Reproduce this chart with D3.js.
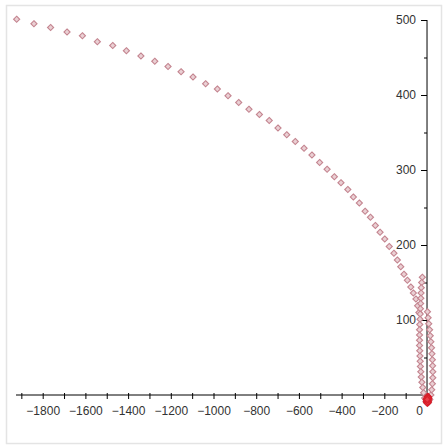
<!DOCTYPE html>
<html><head><meta charset="utf-8">
<script src="https://cdn.jsdelivr.net/npm/d3@7"></script>
<style>
html,body{margin:0;padding:0;background:#fff;}
svg{display:block;}
</style></head>
<body>
<svg id="c" width="447" height="447"></svg>
<script>
// Outer arc
const arcX = [-1922,-1841,-1763,-1686,-1614,-1544,-1472,-1408,-1340,-1275,-1213,-1152,-1096,-1037,-982,-932,-882,-834,-785,-739,-698,-657,-617,-576,-539,-503,-468,-434,-403,-371,-345,-317,-290,-265,-242,-220,-198,-177,-155,-139,-123,-108,-92,-76,-64,-52,-44,-38];
const arcY = [501,495,490,484,479,471,466,459,452,445,438,431,424,415,408,399,390,381,374,366,356,347,338,329,320,310,301,291,283,274,264,256,245,237,226,217,208,198,189,180,171,161,153,144,136,128,119,110];
// Inner loop near the origin
const loopX = [-22,-25,-27,-28,-29,-30,-31,-32,-33,-34,-35,-35,-35,-35,-34,-33,-32,-31,-29,-27,-24,-20,-16,-11,-5,1,7,13,18,22,25,27,27,26,25,23,21,18,15,12,8,5,2];
const loopY = [157,150,143,136,129,122,115,108,101,94,87,80,73,66,59,52,45,38,31,24,17,10,3,-4,-9,-11,-10,-6,0,7,15,23,31,39,47,55,63,71,79,87,95,103,111];
// Dense cluster at the origin
const coreX = [-4,-1,2,5,7,8,7,5,2,0,-2,-3,-1,2,4,5,3,1];
const coreY = [-6,-9,-10,-10,-8,-5,-3,-2,-2,-3,-5,-8,-10,-11,-9,-6,-4,-6];

const xTicks = d3.range(-1900, 1, 100);
const xLabels = [-1800,-1600,-1400,-1200,-1000,-800,-600,-400,-200,0];
const yTicks = d3.range(50, 501, 50);
const yLabels = [100,200,300,400,500];

const svg = d3.select("#c");
svg.append("rect").attr("x",6.5).attr("y",5.5).attr("width",435).attr("height",438)
  .attr("fill","#fff").attr("stroke","#e4e4e4").attr("stroke-width",1.5);

const x = d3.scaleLinear().domain([-1925, 28]).range([16, 433]);
const y = d3.scaleLinear().domain([-12, 500]).range([404, 20]);

const fmt = v => (v < 0 ? "\u2212" + Math.abs(v) : String(v));

// X axis
const gx = svg.append("g").attr("transform", `translate(0,${y(0)})`)
  .call(d3.axisBottom(x).tickValues(xTicks).tickSize(4).tickSizeOuter(0)
     .tickFormat(v => xLabels.includes(v) ? fmt(v) : ""));
gx.select(".domain").attr("stroke","#000").attr("d", `M${x(-1925)},0H${x(28)}`);
gx.selectAll(".tick line").attr("stroke","#000").attr("y1",-2);
gx.selectAll(".tick text").attr("font-family","'Liberation Sans', Arial, sans-serif")
  .attr("font-size",12).attr("fill","#333").attr("y",11)
  .attr("dx", d => d === 0 ? -8 : 0);

// Y axis
const gy = svg.append("g").attr("transform", `translate(${x(0)},0)`)
  .call(d3.axisLeft(y).tickValues(yTicks).tickSize(6).tickSizeOuter(0)
     .tickFormat(v => yLabels.includes(v) ? fmt(v) : ""));
gy.select(".domain").attr("stroke","#000").attr("d", `M0,${y(500)}V${y(-12)}`);
gy.selectAll(".tick line").attr("stroke","#000")
  .attr("x2", d => yLabels.includes(d) ? -6 : -3);
gy.selectAll(".tick text").attr("font-family","'Liberation Sans', Arial, sans-serif")
  .attr("font-size",12).attr("fill","#333").attr("x",-11);

// Points
const pts = [];
arcX.forEach((v,i)=>pts.push([v, arcY[i]]));
loopX.forEach((v,i)=>pts.push([v, loopY[i]]));
const diamond = d3.symbol().type(d3.symbolDiamond2).size(24);
svg.append("g").selectAll("path").data(pts).join("path")
  .attr("d", diamond)
  .attr("transform", d => `translate(${x(d[0])},${y(d[1])})`)
  .attr("fill","#ead0d4").attr("stroke","#c48590").attr("stroke-width",1.1);
const core = coreX.map((v,i)=>[v, coreY[i]]);
svg.append("g").selectAll("path").data(core).join("path")
  .attr("d", diamond)
  .attr("transform", d => `translate(${x(d[0])},${y(d[1])})`)
  .attr("fill","#e8404a").attr("stroke","#d81e2a").attr("stroke-width",1.1);
</script>
</body></html>
